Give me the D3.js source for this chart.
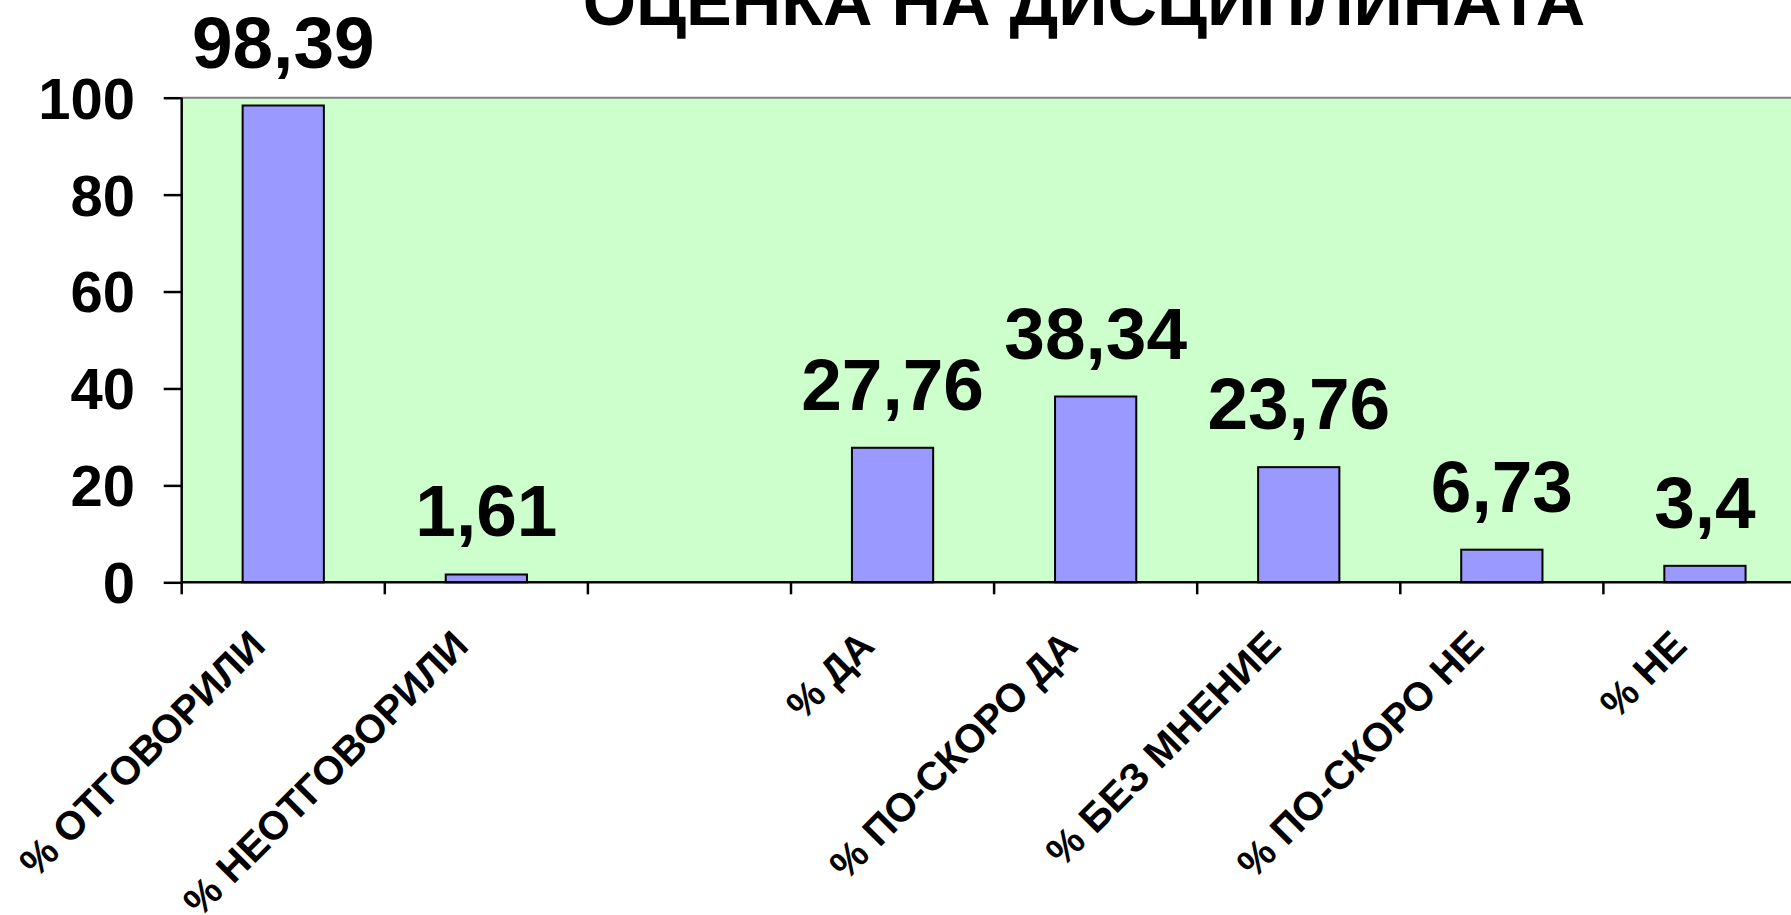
<!DOCTYPE html>
<html>
<head>
<meta charset="utf-8">
<script src="https://cdn.jsdelivr.net/npm/d3@7"></script>
<style>
  html, body { margin: 0; padding: 0; background: #ffffff; overflow: hidden; }
  svg { display: block; }
  text { font-family: "Liberation Sans", Arial, sans-serif; font-weight: bold; fill: #000; }
</style>
</head>
<body>
<svg id="chart" width="1791" height="915"></svg>
<script>
// ---- data ----
const title = "ОЦЕНКА НА ДИСЦИПЛИНАТА";
const categories = ["% ОТГОВОРИЛИ", "% НЕОТГОВОРИЛИ", "", "% ДА", "% ПО-СКОРО ДА", "% БЕЗ МНЕНИЕ", "% ПО-СКОРО НЕ", "% НЕ"];
const values = [98.39, 1.61, null, 27.76, 38.34, 23.76, 6.73, 3.4];
const valueLabels = ["98,39", "1,61", "", "27,76", "38,34", "23,76", "6,73", "3,4"];
const yTicks = [0, 20, 40, 60, 80, 100];

// ---- layout ----
const svg = d3.select("#chart");
const plotLeft = 181.7, plotTop = 97.7, plotBottom = 582.3;
const step = 203.1;
const plotRight = plotLeft + step * categories.length;

const keys = categories.map((c, i) => i);
const x = d3.scaleBand().domain(keys).range([plotLeft, plotRight]).paddingInner(0.6).paddingOuter(0.3);
const xCat = d3.scaleBand().domain(keys).range([plotLeft, plotRight]).padding(0);
const y = d3.scaleLinear().domain([0, 100]).range([plotBottom, plotTop]);

// plot background
svg.append("rect")
  .attr("x", plotLeft).attr("y", plotTop)
  .attr("width", plotRight - plotLeft).attr("height", plotBottom - plotTop)
  .attr("fill", "#CCFFCC");

// top border
svg.append("line")
  .attr("x1", plotLeft).attr("x2", plotRight)
  .attr("y1", plotTop).attr("y2", plotTop)
  .attr("stroke", "#808080").attr("stroke-width", 2);

// bars
keys.forEach(i => {
  if (values[i] == null) return;
  svg.append("rect")
    .attr("x", x(i)).attr("y", y(values[i]))
    .attr("width", x.bandwidth()).attr("height", y(0) - y(values[i]))
    .attr("fill", "#9999FF").attr("stroke", "#000").attr("stroke-width", 2);
});

// y axis
const yAxis = d3.axisLeft(y).tickValues(yTicks).tickSize(18).tickFormat("");
const gy = svg.append("g").attr("transform", `translate(${plotLeft},0)`).call(yAxis);
gy.select(".domain").attr("stroke", "#000").attr("stroke-width", 2.5).attr("d", `M0,${plotTop}V${plotBottom}`);
gy.selectAll(".tick line").attr("stroke", "#000").attr("stroke-width", 2.5);
svg.append("g").selectAll("text").data(yTicks).join("text")
  .attr("x", 135).attr("y", d => y(d))
  .attr("dy", "0.36em")
  .attr("text-anchor", "end")
  .attr("font-size", 58)
  .text(d => d);

// x axis
const bounds = keys.map(i => xCat(i)).concat([plotRight]);
const gx = svg.append("g");
gx.append("line").attr("x1", plotLeft).attr("x2", plotRight).attr("y1", plotBottom).attr("y2", plotBottom)
  .attr("stroke", "#000").attr("stroke-width", 2.5);
gx.selectAll("line.tk").data(bounds).join("line").attr("class", "tk")
  .attr("x1", d => d).attr("x2", d => d)
  .attr("y1", plotBottom).attr("y2", plotBottom + 12)
  .attr("stroke", "#000").attr("stroke-width", 2.5);

// category labels
keys.forEach(i => {
  if (!categories[i]) return;
  const cx = xCat(i) + xCat.bandwidth() / 2 - 16;
  const cy = 648;
  svg.append("text")
    .attr("transform", `translate(${cx},${cy}) rotate(-45)`)
    .attr("text-anchor", "end")
    .attr("font-size", 40)
    .text(categories[i]);
});

// value labels
keys.forEach(i => {
  if (values[i] == null) return;
  svg.append("text")
    .attr("x", x(i) + x.bandwidth() / 2)
    .attr("y", y(values[i]) - 38)
    .attr("text-anchor", "middle")
    .attr("font-size", 73)
    .text(valueLabels[i]);
});

// title
svg.append("text")
  .attr("x", 1084).attr("y", 25)
  .attr("text-anchor", "middle")
  .attr("font-size", 68.5)
  .text(title);
</script>
</body>
</html>
